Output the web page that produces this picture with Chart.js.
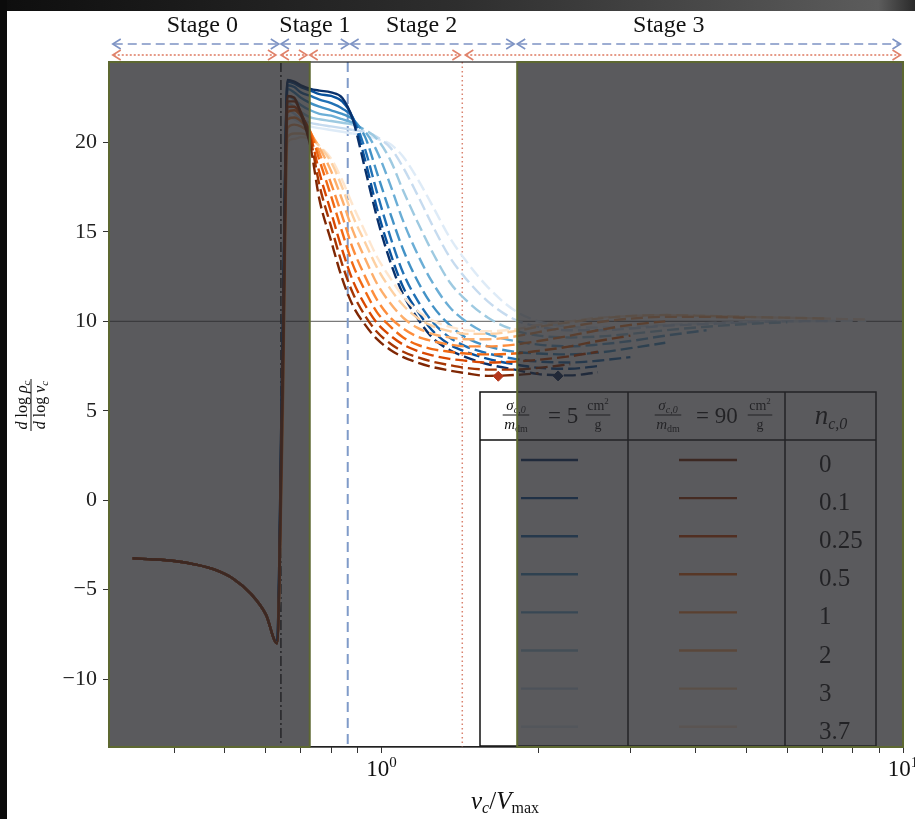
<!DOCTYPE html>
<html>
<head>
<meta charset="utf-8">
<script src="https://cdn.jsdelivr.net/npm/chart.js"></script>
<style>
  html, body { margin: 0; padding: 0; background: #fff; }
  canvas { display: block; }
</style>
</head>
<body>
<canvas id="stagesChart" width="915" height="819"></canvas>
<script>
// stage 0 branch, shared by all runs (v_c / V_max, slope)
const xStage0 = [0.333, 0.36, 0.40, 0.44, 0.48, 0.52, 0.56, 0.60, 0.63];
const yStage0 = [-3.25, -3.3, -3.4, -3.6, -3.9, -4.4, -5.2, -6.4, -8.0];

// grid for the later stages
const xGrid = [0.645, 0.66, 0.68, 0.70, 0.73, 0.76, 0.80, 0.84, 0.88, 0.93, 0.98, 1.04, 1.10, 1.17, 1.25,
               1.35, 1.45, 1.6, 1.8, 2.0, 2.3, 2.6, 3.0, 3.5, 4.2, 5.0, 6.0, 7.2, 8.5];

const nLabels = ['0', '0.1', '0.25', '0.5', '1', '2', '3', '3.7'];

// sigma/m = 5 cm^2/g
const s5_n0   = [8, 23.5, 23.4, 23.2, 23.0, 22.9, 22.8, 22.5, 21.3, 18.5, 15.8, 13.3, 11.5, 10.2, 9.1, 8.4, 8.0, 7.6, 7.3, 7.05, 6.98, 7.15];
const s5_n01  = [8, 23.4, 23.3, 23.1, 22.9, 22.7, 22.6, 22.3, 21.4, 19.0, 16.3, 13.8, 11.9, 10.6, 9.5, 8.7, 8.3, 7.9, 7.6, 7.4, 7.35, 7.5];
const s5_n025 = [7, 23.2, 23.1, 22.8, 22.6, 22.4, 22.2, 21.9, 21.4, 19.6, 17.2, 14.7, 12.7, 11.2, 10.0, 9.1, 8.6, 8.2, 7.9, 7.75, 7.7, 7.8, 8.0];
const s5_n05  = [7, 23.0, 22.8, 22.5, 22.2, 22.0, 21.8, 21.6, 21.3, 20.3, 18.3, 16.0, 14.0, 12.3, 10.9, 9.8, 9.1, 8.6, 8.3, 8.2, 8.15, 8.25, 8.5, 8.8];
const s5_n1   = [6, 22.6, 22.4, 22.1, 21.8, 21.6, 21.5, 21.3, 21.1, 20.6, 19.5, 17.6, 15.6, 13.8, 12.2, 10.8, 10.0, 9.3, 8.9, 8.7, 8.6, 8.7, 8.9, 9.2, 9.5];
const s5_n2   = [6, 22.2, 22.0, 21.7, 21.4, 21.3, 21.2, 21.1, 21.0, 20.7, 20.2, 19.0, 17.3, 15.6, 13.9, 12.2, 11.2, 10.2, 9.5, 9.2, 9.1, 9.15, 9.3, 9.5, 9.7, 9.85, 9.95];
const s5_n3   = [5, 21.8, 21.6, 21.3, 21.1, 21.0, 20.9, 20.8, 20.7, 20.6, 20.3, 19.7, 18.6, 17.1, 15.4, 13.6, 12.4, 11.1, 10.1, 9.7, 9.5, 9.5, 9.6, 9.75, 9.85, 9.95, 10.0, 10.02];
const s5_n37  = [5, 21.5, 21.3, 21.1, 20.9, 20.8, 20.7, 20.6, 20.5, 20.4, 20.2, 19.9, 19.2, 18.0, 16.5, 14.7, 13.4, 11.9, 10.6, 10.0, 9.7, 9.65, 9.7, 9.8, 9.9, 9.97, 10.0, 10.02, 10.03];

// sigma/m = 90 cm^2/g
const s90_n0   = [6, 22.6, 22.5, 21.6, 19.8, 16.8, 14.5, 12.4, 10.9, 9.8, 9.0, 8.4, 8.0, 7.7, 7.45, 7.25, 7.1, 6.95, 7.0, 7.1];
const s90_n01  = [6, 22.3, 22.3, 21.7, 20.2, 17.6, 15.3, 13.2, 11.6, 10.3, 9.4, 8.75, 8.3, 8.0, 7.75, 7.55, 7.4, 7.3, 7.3, 7.4, 7.6];
const s90_n025 = [5, 22.0, 22.0, 21.6, 20.4, 18.3, 16.1, 14.0, 12.3, 10.9, 9.9, 9.2, 8.7, 8.35, 8.1, 7.9, 7.8, 7.7, 7.75, 7.85, 8.05, 8.3];
const s90_n05  = [5, 21.7, 21.8, 21.5, 20.6, 19.0, 17.0, 15.0, 13.2, 11.7, 10.5, 9.7, 9.1, 8.7, 8.45, 8.3, 8.2, 8.15, 8.2, 8.35, 8.6, 8.9, 9.2];
const s90_n1   = [4, 21.3, 21.4, 21.2, 20.6, 19.4, 17.7, 15.9, 14.1, 12.5, 11.2, 10.2, 9.6, 9.15, 8.9, 8.7, 8.6, 8.6, 8.7, 8.9, 9.2, 9.5, 9.8, 10.0];
const s90_n2   = [4, 20.8, 21.0, 20.9, 20.5, 19.7, 18.4, 16.8, 15.1, 13.5, 12.1, 11.0, 10.2, 9.65, 9.3, 9.1, 9.0, 9.0, 9.15, 9.4, 9.7, 9.95, 10.15, 10.25, 10.25, 10.2];
const s90_n3   = [3, 20.3, 20.5, 20.5, 20.3, 19.8, 18.9, 17.5, 15.9, 14.4, 13.0, 11.8, 10.9, 10.2, 9.75, 9.45, 9.3, 9.3, 9.45, 9.7, 9.95, 10.15, 10.3, 10.35, 10.3, 10.25, 10.2, 10.15];
const s90_n37  = [3, 20.0, 20.2, 20.3, 20.2, 19.8, 19.1, 17.9, 16.5, 15.0, 13.6, 12.4, 11.4, 10.6, 10.05, 9.7, 9.5, 9.45, 9.55, 9.8, 10.0, 10.2, 10.3, 10.35, 10.3, 10.25, 10.2, 10.15, 10.1];

// minima of the n=0 runs
const minX = [1.674, 2.18];
const minY = [6.93, 6.95];

const yTickVals = [-10, -5, 0, 5, 10, 15, 20];
const xTickVals = [0.4, 0.5, 0.6, 0.7, 0.8, 0.9, 1, 2, 3, 4, 5, 6, 7, 8, 9, 10];
const xLabelVals = [1, 10];
const xLabelExp = ['0', '1'];

const stageNames = ['Stage 0', 'Stage 1', 'Stage 2', 'Stage 3'];
const stageNameX = [0.453, 0.745, 1.193, 3.554];
const blueArrows = [[0.305, 0.635], [0.641, 0.865], [0.872, 1.796], [1.82, 9.89]];
const orangeArrows = [[0.305, 0.627], [0.641, 0.719], [0.728, 1.416], [1.447, 9.89]];
const shadedSpans = [[0.3, 0.728], [1.82, 10]];
const blackEdge = 0.641, blueEdge = 0.861, orangeEdge = 1.428;
const blueDashFrom = 0.861, orangeDashFrom = 0.728;

const blues = ['#08306b', '#08519c', '#2171b5', '#4292c6', '#6baed6', '#9ecae1', '#c6dbef', '#deebf7'];
const oranges = ['#7f2704', '#a63603', '#d94801', '#f16913', '#fd8d3c', '#fdae6b', '#fdd0a2', '#fee6ce'];

const sigma5 = [s5_n0, s5_n01, s5_n025, s5_n05, s5_n1, s5_n2, s5_n3, s5_n37];
const sigma90 = [s90_n0, s90_n01, s90_n025, s90_n05, s90_n1, s90_n2, s90_n3, s90_n37];

const SERIF = '"Liberation Serif", "DejaVu Serif", serif';
const f = (size, it) => (it ? 'italic ' : '') + size + 'px ' + SERIF;

function curvePoints(tail) {
    const pts = xStage0.map((x, i) => ({ x: x, y: yStage0[i] }));
    tail.forEach((y, i) => pts.push({ x: xGrid[i], y: y }));
    return pts;
}

function lineSet(tail, color, dashFrom) {
    return {
        data: curvePoints(tail),
        borderColor: color,
        borderWidth: 2.4,
        pointRadius: 0,
        fill: false,
        cubicInterpolationMode: 'monotone',
        segment: {
            borderDash: c => c.p0.parsed.x >= dashFrom - 1e-6 ? [12, 5] : undefined
        }
    };
}

const datasets = [{
    data: minX.map((x, i) => ({ x: x, y: minY[i] })),
    showLine: false,
    pointStyle: 'rectRot',
    pointRadius: 5,
    pointBackgroundColor: ['#b5381c', '#0b2a5c'],
    pointBorderColor: ['#b5381c', '#0b2a5c'],
    borderWidth: 1
}];
sigma90.forEach((t, i) => datasets.push(lineSet(t, oranges[i], orangeDashFrom)));
sigma5.forEach((t, i) => datasets.push(lineSet(t, blues[i], blueDashFrom)));

// text helpers
function drawRuns(ctx, x, y, runs, align) {
    let w = 0;
    runs.forEach(r => { ctx.font = r[1]; w += ctx.measureText(r[0]).width; });
    let cx = align === 'center' ? x - w / 2 : (align === 'right' ? x - w : x);
    ctx.textAlign = 'left';
    ctx.textBaseline = 'alphabetic';
    runs.forEach(r => {
        ctx.font = r[1];
        ctx.fillText(r[0], cx, y + (r[2] || 0));
        cx += ctx.measureText(r[0]).width;
    });
    return w;
}

function runsWidth(ctx, runs) {
    let w = 0;
    runs.forEach(r => { ctx.font = r[1]; w += ctx.measureText(r[0]).width; });
    return w;
}

function drawFrac(ctx, cx, yBar, num, den, upOff, downOff) {
    const w = Math.max(runsWidth(ctx, num), runsWidth(ctx, den)) + 3;
    drawRuns(ctx, cx, yBar - upOff, num, 'center');
    drawRuns(ctx, cx, yBar + downOff, den, 'center');
    ctx.beginPath();
    ctx.lineWidth = 1;
    ctx.moveTo(cx - w / 2, yBar);
    ctx.lineTo(cx + w / 2, yBar);
    ctx.stroke();
}

function arrow(ctx, x0, x1, y, color, dash) {
    ctx.save();
    ctx.strokeStyle = color;
    ctx.lineWidth = 1.6;
    ctx.setLineDash(dash);
    ctx.beginPath();
    ctx.moveTo(x0 + 1, y);
    ctx.lineTo(x1 - 1, y);
    ctx.stroke();
    ctx.setLineDash([]);
    ctx.beginPath();
    ctx.moveTo(x0 + 8, y - 5); ctx.lineTo(x0, y); ctx.lineTo(x0 + 8, y + 5);
    ctx.moveTo(x1 - 8, y - 5); ctx.lineTo(x1, y); ctx.lineTo(x1 - 8, y + 5);
    ctx.stroke();
    ctx.restore();
}

const decor = {
    id: 'decor',
    beforeDraw(chart) {
        const ctx = chart.ctx;
        ctx.save();
        ctx.fillStyle = '#fff';
        ctx.fillRect(0, 0, chart.width, chart.height);
        const g = ctx.createLinearGradient(0, 0, chart.width, 0);
        g.addColorStop(0, '#0e0e0e');
        g.addColorStop(0.5, '#2e2e2e');
        g.addColorStop(0.96, '#5c5c5c');
        g.addColorStop(1, '#2a2a2a');
        ctx.fillStyle = g;
        ctx.fillRect(0, 0, chart.width, 11);
        ctx.fillStyle = '#0b0b0b';
        ctx.fillRect(0, 0, 7, chart.height);
        ctx.restore();
    },
    beforeDatasetsDraw(chart) {
        const ctx = chart.ctx, a = chart.chartArea;
        const xs = chart.scales.x, ys = chart.scales.y;
        ctx.save();
        ctx.beginPath();
        ctx.rect(a.left, a.top, a.right - a.left, a.bottom - a.top);
        ctx.clip();
        // reference slope 10
        ctx.strokeStyle = '#7a7a7a';
        ctx.lineWidth = 1.2;
        ctx.beginPath();
        ctx.moveTo(a.left, ys.getPixelForValue(10));
        ctx.lineTo(a.right, ys.getPixelForValue(10));
        ctx.stroke();
        const vline = (v, color, w, dash) => {
            const p = xs.getPixelForValue(v);
            ctx.strokeStyle = color;
            ctx.lineWidth = w;
            ctx.setLineDash(dash);
            ctx.beginPath();
            ctx.moveTo(p, a.top);
            ctx.lineTo(p, a.bottom);
            ctx.stroke();
        };
        vline(blackEdge, '#1a1a1a', 1.5, [10, 3, 2, 3]);
        vline(blueEdge, '#7f9bc9', 2, [10, 6]);
        vline(orangeEdge, '#d9826e', 1.5, [1.5, 3]);
        ctx.restore();
    },
    afterDatasetsDraw(chart) {
        const ctx = chart.ctx, a = chart.chartArea;
        const xs = chart.scales.x;
        ctx.save();

        // legend table
        const T = { l: 480, r: 876, t: 392, b: 746, head: 440, c1: 628, c2: 785 };
        ctx.fillStyle = '#fff';
        ctx.fillRect(T.l, T.t, T.r - T.l, T.b - T.t);
        ctx.strokeStyle = '#111';
        ctx.lineWidth = 1.5;
        ctx.strokeRect(T.l, T.t, T.r - T.l, T.b - T.t);
        ctx.beginPath();
        ctx.moveTo(T.l, T.head); ctx.lineTo(T.r, T.head);
        ctx.moveTo(T.c1, T.t); ctx.lineTo(T.c1, T.b);
        ctx.moveTo(T.c2, T.t); ctx.lineTo(T.c2, T.b);
        ctx.stroke();

        ctx.fillStyle = '#111';
        ctx.strokeStyle = '#111';
        const sigNum = [['σ', f(15, true)], ['c,0', f(10, true), 3]];
        const mDen = [['m', f(15, true)], ['dm', f(10, false), 3]];
        const cmNum = [['cm', f(14, false)], ['2', f(9, false), -6]];
        const gDen = [['g', f(14, false)]];
        drawFrac(ctx, 516, 415, sigNum, mDen, 5, 14);
        drawRuns(ctx, 548, 423, [['= 5', f(23, false)]], 'left');
        drawFrac(ctx, 598, 415, cmNum, gDen, 5, 14);
        drawFrac(ctx, 668, 415, sigNum, mDen, 5, 14);
        drawRuns(ctx, 696, 423, [['= 90', f(23, false)]], 'left');
        drawFrac(ctx, 760, 415, cmNum, gDen, 5, 14);
        drawRuns(ctx, 831, 424, [['n', f(27, true)], ['c,0', f(16, true), 5]], 'center');

        nLabels.forEach((lab, i) => {
            const yl = 460 + i * 38.1;
            ctx.lineWidth = 2.4;
            ctx.strokeStyle = blues[i];
            ctx.beginPath(); ctx.moveTo(521, yl); ctx.lineTo(578, yl); ctx.stroke();
            ctx.strokeStyle = oranges[i];
            ctx.beginPath(); ctx.moveTo(679, yl); ctx.lineTo(737, yl); ctx.stroke();
            ctx.fillStyle = '#111';
            drawRuns(ctx, 819, yl + 12, [[lab, f(25, false)]], 'left');
        });

        // plot frame
        ctx.strokeStyle = '#222';
        ctx.lineWidth = 1.2;
        ctx.strokeRect(a.left, a.top, a.right - a.left, a.bottom - a.top);

        // shaded stages
        shadedSpans.forEach(s => {
            const x0 = xs.getPixelForValue(s[0]), x1 = xs.getPixelForValue(s[1]);
            ctx.fillStyle = 'rgba(40, 40, 44, 0.77)';
            ctx.fillRect(x0, a.top, x1 - x0, a.bottom - a.top);
            ctx.strokeStyle = '#5d6831';
            ctx.lineWidth = 2;
            ctx.strokeRect(x0, a.top, x1 - x0, a.bottom - a.top);
        });
        ctx.restore();
    },
    afterDraw(chart) {
        const ctx = chart.ctx;
        const xs = chart.scales.x;
        ctx.save();
        // stage arrows and names
        blueArrows.forEach(s => arrow(ctx, xs.getPixelForValue(s[0]), xs.getPixelForValue(s[1]), 44, '#7d93c4', [9, 5]));
        orangeArrows.forEach(s => arrow(ctx, xs.getPixelForValue(s[0]), xs.getPixelForValue(s[1]), 55, '#e0826a', [2, 2]));
        ctx.fillStyle = '#111';
        stageNames.forEach((s, i) => drawRuns(ctx, xs.getPixelForValue(stageNameX[i]), 32, [[s, f(24, false)]], 'center'));

        // x tick labels 10^k
        xLabelVals.forEach((v, i) => {
            const p = xs.getPixelForValue(v);
            drawRuns(ctx, p, 776, [['10', f(23, false)], [xLabelExp[i], f(15, false), -9]], 'center');
        });

        // axis titles
        drawRuns(ctx, 505, 809, [['v', f(25, true)], ['c', f(16, true), 4], ['/', f(25, false)],
                                 ['V', f(25, true)], ['max', f(16, false), 4]], 'center');
        ctx.translate(31, 405);
        ctx.rotate(-Math.PI / 2);
        ctx.strokeStyle = '#111';
        drawFrac(ctx, 0, 0,
            [['d', f(16, true)], [' log ', f(16, false)], ['ρ', f(16, true)], ['c', f(11, true), 3]],
            [['d', f(16, true)], [' log ', f(16, false)], ['v', f(16, true)], ['c', f(11, true), 3]], 4, 14);
        ctx.restore();
    }
};

new Chart(document.getElementById('stagesChart').getContext('2d'), {
    type: 'line',
    data: { datasets: datasets },
    plugins: [decor],
    options: {
        responsive: false,
        animation: false,
        events: [],
        layout: { padding: { left: 0, top: 62, right: 12, bottom: 0 } },
        plugins: { legend: { display: false }, tooltip: { enabled: false } },
        scales: {
            x: {
                type: 'logarithmic',
                min: 0.3,
                max: 10,
                afterBuildTicks: s => { s.ticks = xTickVals.map(v => ({ value: v })); },
                afterFit: s => { s.height = 72; },
                ticks: { display: false, autoSkip: false },
                grid: { drawOnChartArea: false, drawTicks: true, tickLength: 6, color: '#333' },
                border: { color: '#222', width: 1.2 }
            },
            y: {
                type: 'linear',
                min: -13.8,
                max: 24.5,
                afterBuildTicks: s => { s.ticks = yTickVals.map(v => ({ value: v })); },
                afterFit: s => { s.width = 109; },
                ticks: {
                    padding: 6,
                    color: '#222',
                    font: { family: SERIF, size: 22 },
                    callback: v => v < 0 ? '\u2212' + Math.abs(v) : String(v)
                },
                grid: { drawOnChartArea: false, drawTicks: true, tickLength: 6, color: '#333' },
                border: { color: '#222', width: 1.2 }
            }
        }
    }
});
</script>
</body>
</html>
